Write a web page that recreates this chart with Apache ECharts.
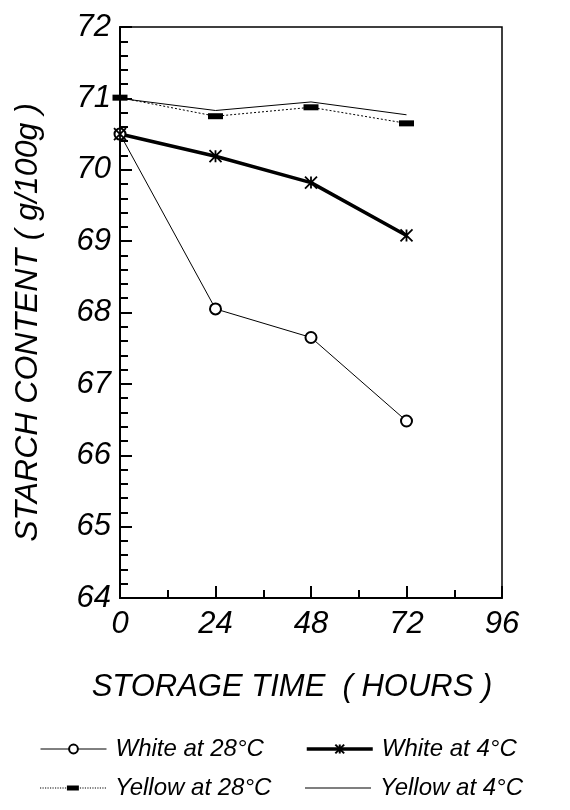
<!DOCTYPE html>
<html>
<head>
<meta charset="utf-8">
<script src="https://cdn.jsdelivr.net/npm/echarts@6/dist/echarts.min.js"></script>
<style>
  html, body { margin: 0; padding: 0; background: #fff; }
  #chart { width: 570px; height: 810px; }
</style>
</head>
<body>
<div id="chart"></div>
<script>
// storage time (hours)
const hours = [0, 24, 48, 72];
// starch content g/100g
const white28 = [70.5, 68.05, 67.65, 66.48];
const white4 = [70.5, 70.19, 69.82, 69.08];
const yellow28 = [71.01, 70.75, 70.875, 70.65];
const yellow4 = [71.0, 70.83, 70.95, 70.77];

const xTicks = [0, 24, 48, 72, 96];
const yTicks = [64, 65, 66, 67, 68, 69, 70, 71, 72];

const font = 'Liberation Sans, Arial, sans-serif';
const asterisk = 'path://M0,0 L10,10 M10,0 L0,10 M5,0 L5,10';
const flatRect = 'path://M0,0 H15 V6 H0 Z';
const plainLine = 'path://M0,0 H100 V1.4 H0 Z';

// legend key for the dotted series: dots with a flat bar in the middle
function dottedKey() {
  let p = 'path://M27,0 H39 V5 H27 Z';
  for (let x = 0; x < 66; x += 2.5) {
    if (x > 25 && x < 40) continue;
    p += ' M' + x + ',2 H' + (x + 1.2) + ' V3 H' + x + ' Z';
  }
  return p;
}

function pairs(vals) {
  return hours.map(function (h, i) { return [h, vals[i]]; });
}

// one legend per entry so the two columns line up like the original
function legendAt(item, left, top, itemHeight, lineWidth) {
  return {
    data: [item],
    left: left,
    top: top,
    padding: 0,
    itemWidth: 66,
    itemHeight: itemHeight,
    lineStyle: { width: lineWidth },
    textStyle: {
      fontFamily: font,
      fontStyle: 'italic',
      fontSize: 24,
      color: '#000',
      padding: [0, 0, 0, 4]
    }
  };
}

const chart = echarts.init(document.getElementById('chart'));

chart.setOption({
  backgroundColor: '#fff',
  animation: false,
  grid: {
    left: 120,
    right: 68,
    top: 27,
    bottom: 212,
    show: true,
    borderColor: '#000',
    borderWidth: 1.5
  },
  legend: [
    legendAt('White at 28°C', 40, 737, 11, 1),
    legendAt('White at 4°C', 305, 737, 11, 3.5),
    legendAt({ name: 'Yellow at 28°C', icon: dottedKey() }, 40, 776, 14, 1),
    legendAt({ name: 'Yellow at 4°C', icon: plainLine }, 305, 776, 12, 1)
  ],
  xAxis: {
    type: 'value',
    min: xTicks[0],
    max: xTicks[xTicks.length - 1],
    interval: 24,
    name: 'STORAGE TIME  ( HOURS )',
    nameLocation: 'middle',
    nameGap: 74,
    nameTextStyle: {
      fontFamily: font,
      fontStyle: 'italic',
      fontSize: 31,
      color: '#000',
      padding: [0, 38, 0, 0]
    },
    axisLine: { onZero: false, lineStyle: { color: '#000', width: 2 } },
    axisTick: { inside: true, length: 12, lineStyle: { color: '#000', width: 2 } },
    minorTick: { show: true, splitNumber: 2, length: 8, lineStyle: { color: '#000', width: 2 } },
    splitLine: { show: false },
    axisLabel: {
      margin: 11,
      fontFamily: font,
      fontStyle: 'italic',
      fontSize: 31,
      color: '#000'
    }
  },
  yAxis: {
    type: 'value',
    min: yTicks[0],
    max: yTicks[yTicks.length - 1],
    interval: 1,
    name: 'STARCH CONTENT ( g/100g )',
    nameLocation: 'middle',
    nameGap: 76,
    nameTextStyle: {
      fontFamily: font,
      fontStyle: 'italic',
      fontSize: 32,
      color: '#000',
      padding: [0, 20, 0, 0]
    },
    axisLine: { show: true, lineStyle: { color: '#000', width: 2 } },
    axisTick: { inside: true, length: 12, lineStyle: { color: '#000', width: 2 } },
    minorTick: { show: true, splitNumber: 5, length: 8, lineStyle: { color: '#000', width: 2 } },
    splitLine: { show: false },
    axisLabel: {
      margin: 9,
      fontFamily: font,
      fontStyle: 'italic',
      fontSize: 31,
      color: '#000'
    }
  },
  series: [
    {
      name: 'Yellow at 4°C',
      type: 'line',
      data: pairs(yellow4),
      symbol: 'none',
      lineStyle: { color: '#000', width: 1 },
      itemStyle: { color: '#000' }
    },
    {
      name: 'Yellow at 28°C',
      type: 'line',
      data: pairs(yellow28),
      symbol: flatRect,
      symbolSize: [15, 6],
      lineStyle: { color: '#000', width: 1, type: [2, 2] },
      itemStyle: { color: '#000' }
    },
    {
      name: 'White at 28°C',
      type: 'line',
      data: pairs(white28),
      symbol: 'emptyCircle',
      symbolSize: 11,
      lineStyle: { color: '#000', width: 1 },
      itemStyle: { color: '#000', borderColor: '#000', borderWidth: 1 }
    },
    {
      name: 'White at 4°C',
      type: 'line',
      data: pairs(white4),
      symbol: asterisk,
      symbolSize: 12,
      lineStyle: { color: '#000', width: 3.5 },
      itemStyle: { color: '#000', borderColor: '#000', borderWidth: 1.8 }
    }
  ]
});
</script>
</body>
</html>
